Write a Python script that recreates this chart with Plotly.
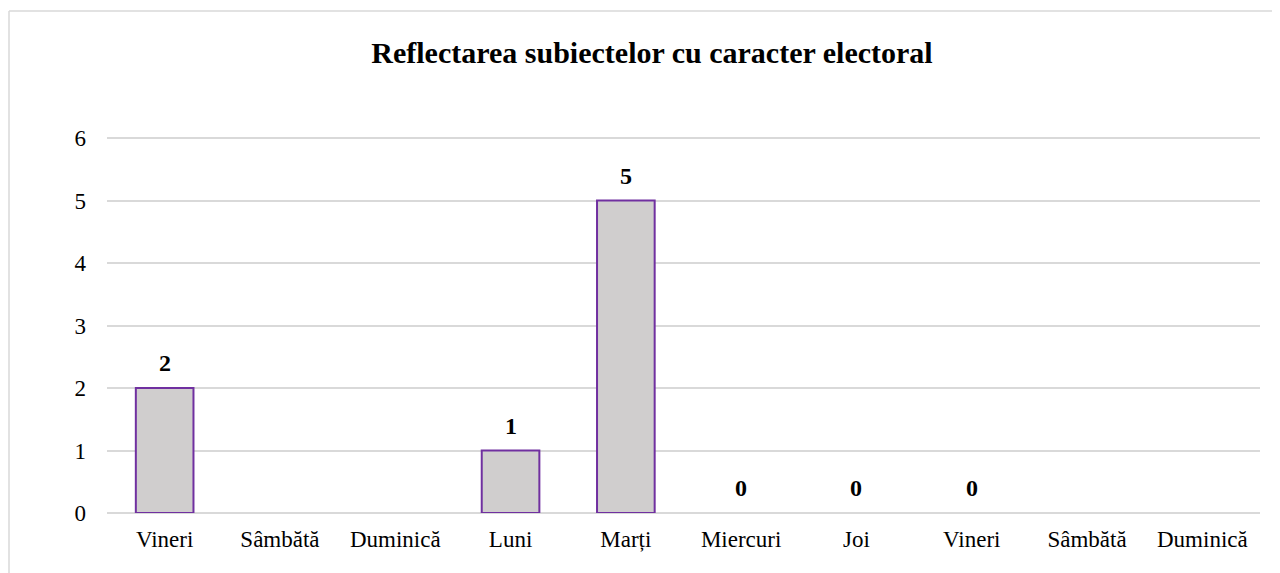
import plotly.graph_objects as go

days = ["Vineri", "Sâmbătă", "Duminică", "Luni", "Marți", "Miercuri", "Joi", "Vineri", "Sâmbătă", "Duminică"]
values = [2, None, None, 1, 5, 0, 0, 0, None, None]
y_ticks = [0, 1, 2, 3, 4, 5, 6]

positions = list(range(len(days)))
line_widths = [2 if (v is not None and v > 0) else 0 for v in values]

FONT = "Liberation Serif, Times New Roman, serif"

# page body has an 8px margin; compensate so the chart lands where the reference has it
OFF = 8
PL, PR, PT, PB = 107, 1260, 138, 513  # page pixels: x span, y of value 6, y of value 0
YMAX = 6.08
UNIT = (PB - PT) / 6.0
TOP = PB - YMAX * UNIT

fig = go.Figure()
fig.add_trace(go.Bar(
    x=positions, y=values,
    marker=dict(color="#D0CECE", line=dict(color="#7030A0", width=line_widths)),
    width=0.5, hoverinfo="x+y",
))

annotations = [
    dict(x=p, y=v, xref="x", yref="y", text=f"<b>{v}</b>", showarrow=False,
         yanchor="middle", yshift=25,
         font=dict(family=FONT, size=24, color="#000000"))
    for p, v in zip(positions, values) if v is not None
]

W = PR - PL
H = PB - TOP
fig.update_layout(
    width=1280, height=573,
    paper_bgcolor="white", plot_bgcolor="white",
    margin=dict(l=PL - OFF, r=1280 + OFF - PR, t=TOP - OFF, b=573 + OFF - PB, pad=0),
    showlegend=False,
    font=dict(family=FONT, size=23, color="#000000"),
    title=dict(
        text="<b>Reflectarea subiectelor cu caracter electoral</b>",
        x=(652 - OFF) / 1280, xref="container", xanchor="center",
        y=1 - (52 - OFF) / 573, yref="container", yanchor="middle",
        font=dict(family=FONT, size=30, color="#000000"),
    ),
    xaxis=dict(
        tickmode="array", tickvals=positions, ticktext=days,
        range=[-0.5, len(days) - 0.5],
        showgrid=False, zeroline=False, showline=False,
        ticks="", ticklen=0, ticklabelstandoff=10,
    ),
    yaxis=dict(
        range=[0, YMAX], tickmode="array", tickvals=y_ticks,
        showgrid=True, gridcolor="#D9D9D9", gridwidth=1.5,
        zeroline=True, zerolinecolor="#D9D9D9", zerolinewidth=1.5,
        showline=False, ticks="", ticklabelstandoff=20,
    ),
    annotations=annotations,
    shapes=[
        dict(type="line", xref="paper", yref="paper",
             x0=(9 - PL) / W, x1=(9 - PL) / W,
             y0=(PB - 11) / H, y1=(PB - 600) / H,
             line=dict(color="#D9D9D9", width=1.5)),
        dict(type="line", xref="paper", yref="paper",
             x0=(9 - PL) / W, x1=(1300 - PL) / W,
             y0=(PB - 11) / H, y1=(PB - 11) / H,
             line=dict(color="#D9D9D9", width=1.5)),
    ],
)

fig.write_html("out.html")
